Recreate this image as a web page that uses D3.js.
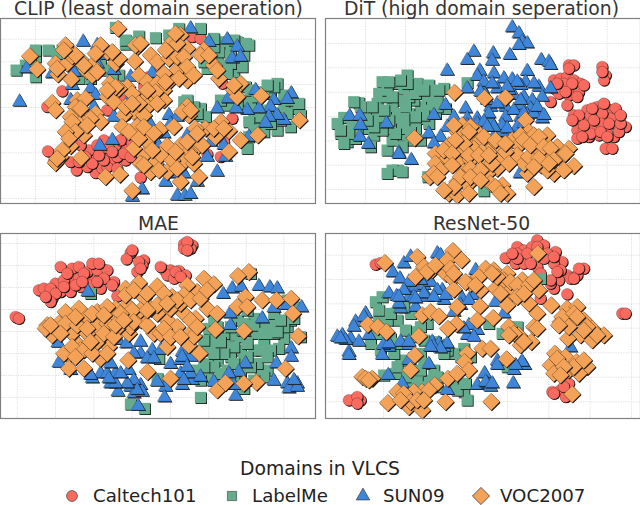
<!DOCTYPE html>
<html>
<head>
<meta charset="utf-8">
<script src="https://cdn.jsdelivr.net/npm/d3@7"></script>
<style>
  html, body { margin: 0; padding: 0; background: #fff; }
  svg { display: block; font-family: "DejaVu Sans", sans-serif; }
</style>
</head>
<body>
<svg id="chart" width="640" height="505"></svg>
<script>
const domainNames = ["Caltech101", "LabelMe", "SUN09", "VOC2007"];
const domainColors = ["#fb6a5e", "#65ab8d", "#3f86d9", "#f3a258"];
const panelTitles = ["CLIP (least domain seperation)", "DiT (high domain seperation)", "MAE", "ResNet-50"];

// embedding values
const clipCaltech = [[185,273],[142,453],[228,510],[210,485],[160,485],[285,518],[260,500],[420,532],[300,490],[340,490],[375,480],[355,450],[320,465],[280,470],[265,450],[310,420],[345,435],[380,440],[370,415],[240,435],[300,450],[330,480],[305,505],[350,470],[400,450],[695,355],[665,250],[575,110],[600,115],[660,470],[620,462],[670,425],[140,320],[445,230],[480,215],[430,260],[365,300],[320,330],[375,345],[325,445],[360,420],[395,430],[290,435],[255,470],[235,485],[275,490],[320,500],[350,505],[370,460],[390,470],[310,480],[335,455],[295,465]];
const clipLabelMe = [[345,82],[415,108],[465,113],[375,132],[505,105],[535,85],[600,85],[143,150],[185,150],[105,170],[75,195],[47,210],[105,230],[235,235],[290,200],[625,130],[655,125],[680,135],[710,125],[735,130],[650,170],[700,215],[725,200],[620,205],[655,155],[550,305],[600,325],[600,345],[615,350],[735,260],[830,250],[790,275],[850,285],[885,325],[900,345],[870,380],[830,390],[770,370],[790,395],[740,445],[720,300],[680,315],[750,300],[810,280],[760,350],[255,345],[265,195],[210,180],[750,320],[850,320],[800,330],[270,220],[355,225],[640,140],[665,195],[690,190],[680,220],[610,185],[640,115],[700,120],[690,165],[730,165],[745,135],[870,300],[820,260],[800,255],[750,270],[710,310],[660,300],[860,340],[840,360],[810,370],[780,350],[745,365],[770,290],[895,310],[580,320],[560,300],[590,340],[745,410],[760,390],[105,150],[90,190],[170,160],[200,145],[240,210],[270,235],[300,180],[315,210],[335,235],[375,120],[400,125]];
const clipSun = [[570,85],[680,118],[710,140],[695,175],[720,170],[625,125],[248,125],[318,155],[290,190],[340,210],[78,205],[220,215],[155,220],[270,265],[215,255],[57,305],[285,285],[280,320],[210,300],[340,350],[390,230],[455,218],[410,295],[765,270],[872,280],[860,297],[820,300],[810,320],[850,360],[830,345],[805,350],[795,368],[775,325],[740,330],[707,325],[683,295],[650,325],[745,410],[670,435],[620,470],[650,515],[675,470],[505,345],[530,350],[510,370],[445,365],[490,400],[560,405],[575,410],[630,425],[460,455],[510,450],[298,437],[335,420],[495,545],[425,568],[395,590],[530,587],[553,587],[570,582],[590,545],[550,520],[515,520],[470,430],[390,290],[320,165],[290,135]];
const clipVoc = [[353,85],[410,140],[195,135],[297,148],[88,168],[110,207],[165,190],[200,190],[172,222],[212,237],[215,168],[240,178],[258,212],[275,225],[340,170],[320,155],[345,190],[403,183],[450,165],[470,185],[540,105],[510,130],[520,150],[505,175],[560,145],[610,150],[640,195],[655,235],[545,190],[570,215],[525,215],[510,240],[560,240],[490,220],[328,250],[380,260],[415,225],[440,245],[470,250],[490,270],[320,290],[340,305],[420,290],[450,280],[490,300],[440,320],[400,335],[155,308],[165,330],[230,300],[255,295],[225,320],[240,340],[210,350],[285,340],[300,365],[210,380],[245,365],[240,395],[250,405],[370,345],[365,380],[410,378],[435,405],[440,425],[478,388],[520,380],[720,250],[700,270],[710,290],[782,287],[897,360],[772,405],[720,420],[685,392],[662,365],[645,410],[615,385],[585,385],[565,345],[560,318],[540,435],[500,437],[590,440],[565,455],[550,485],[580,490],[595,530],[540,545],[500,515],[465,490],[430,465],[400,445],[420,490],[450,515],[480,465],[685,455],[358,523],[315,530],[395,572],[242,473],[210,437],[180,470],[165,488],[395,280],[355,265],[465,275],[470,310],[430,345],[385,395],[415,415],[455,450],[430,495],[475,510],[515,480],[525,455],[560,425],[605,435],[575,470],[530,505],[590,400],[640,385],[670,385],[545,335],[570,330],[530,170],[550,170],[495,150],[530,130],[525,100],[600,165],[625,165],[650,210],[240,325],[215,365],[270,355],[260,375],[225,395],[195,395],[205,415],[185,450],[170,475],[275,195],[290,215],[250,195],[225,165],[190,150],[170,205],[355,175],[335,155],[300,135],[285,160],[405,135],[420,130],[560,200],[580,225],[535,235],[495,245],[700,255],[345,260],[320,270],[440,270],[415,310],[375,320],[395,310],[430,380],[460,400]];

const ditCaltech = [[745,195],[760,195],[700,240],[720,235],[740,230],[760,240],[780,250],[700,265],[725,265],[750,265],[775,275],[715,280],[745,285],[770,290],[690,305],[740,315],[845,200],[855,225],[850,240],[845,215],[760,345],[800,330],[830,320],[860,325],[885,325],[895,350],[915,380],[770,365],[800,360],[830,350],[860,345],[880,370],[770,390],[790,385],[820,385],[850,380],[880,410],[805,410],[835,405],[860,400],[770,415],[895,395],[855,445],[875,445],[810,400],[870,355],[730,250],[755,250],[735,275],[790,255],[710,250],[775,345],[820,340],[845,340],[810,345],[840,370],[790,375],[865,370],[900,370],[900,345],[820,360],[785,410],[755,360],[815,325],[840,395],[850,310],[745,205],[860,410]];
const ditLabelMe = [[115,308],[70,352],[95,370],[60,400],[80,425],[105,415],[130,385],[155,350],[185,245],[175,280],[170,310],[165,345],[175,375],[160,405],[200,450],[230,510],[215,510],[225,250],[260,225],[250,265],[290,250],[325,255],[370,265],[345,285],[320,300],[300,320],[280,300],[240,300],[215,320],[230,340],[265,340],[300,355],[325,370],[260,375],[230,370],[210,385],[240,405],[270,420],[215,420],[195,350],[440,248],[375,325],[322,530],[490,572],[285,385],[300,420],[135,330],[110,390],[350,300],[195,290],[265,290],[150,440],[200,270],[215,290],[255,320],[285,280],[310,270],[330,330],[345,340],[310,345],[285,350],[250,355],[205,360],[185,390],[190,330],[160,380],[250,385],[270,395],[245,440],[225,400],[140,360],[85,400],[50,370],[120,320],[100,305],[60,390],[70,430],[200,520],[245,515],[355,270],[260,250],[240,240],[205,245],[155,320],[350,320]];
const ditSun = [[575,82],[595,100],[605,125],[620,130],[595,135],[460,155],[440,180],[518,160],[515,182],[568,165],[662,180],[685,185],[690,195],[380,212],[478,212],[520,220],[620,213],[470,228],[550,235],[575,238],[615,245],[440,265],[485,265],[530,265],[600,255],[655,260],[690,265],[640,250],[495,285],[665,290],[580,285],[610,290],[635,300],[555,320],[600,315],[630,325],[510,320],[435,325],[375,315],[340,345],[400,350],[440,355],[470,355],[510,360],[555,350],[600,350],[650,340],[665,355],[380,380],[620,345],[325,400],[360,410],[340,430],[525,400],[545,395],[590,380],[87,348],[118,347],[120,375],[198,370],[118,410],[143,432],[235,458],[272,480],[505,340],[235,462],[598,520],[500,300],[530,310],[580,330],[610,340],[640,340],[650,320],[670,345],[600,300],[565,270],[590,245],[560,260],[490,245],[515,250],[480,275],[470,370],[440,375],[545,375],[520,380],[490,365],[500,380],[560,385],[610,370]];
const ditVoc = [[402,277],[492,294],[555,292],[615,360],[282,414],[425,375],[410,395],[470,395],[440,415],[480,420],[385,435],[420,450],[460,445],[500,440],[345,460],[380,475],[345,490],[410,485],[450,480],[490,480],[520,440],[540,475],[530,505],[360,510],[328,530],[430,515],[465,530],[500,520],[410,545],[440,555],[510,550],[385,580],[410,585],[445,580],[545,555],[560,580],[640,560],[620,520],[575,420],[595,435],[625,395],[600,405],[650,430],[680,405],[640,460],[680,465],[590,465],[610,490],[660,495],[700,520],[710,440],[745,445],[720,475],[760,497],[640,405],[530,430],[555,455],[490,410],[450,380],[625,470],[680,510],[515,490],[400,375],[445,395],[430,430],[405,420],[370,450],[395,460],[445,465],[475,465],[505,465],[525,420],[555,430],[565,490],[610,420],[630,435],[655,410],[670,440],[690,445],[700,480],[735,460],[655,475],[640,500],[685,490],[730,510],[395,495],[450,505],[480,510],[420,530],[450,530],[480,540],[525,560],[540,580],[400,560],[370,570],[340,520],[350,530]];

const maeCaltech = [[50,323],[115,240],[140,240],[155,265],[180,245],[165,220],[180,170],[215,175],[235,170],[210,210],[235,205],[210,245],[240,230],[270,210],[280,165],[305,175],[300,235],[340,215],[350,258],[390,128],[378,147],[430,150],[425,165],[410,185],[490,178],[510,180],[535,182],[555,195],[500,195],[520,205],[550,102],[575,105],[550,115],[570,115],[300,200],[260,185],[190,210],[150,250],[130,235],[150,235],[165,250],[190,230],[225,225],[200,190],[250,190],[290,180],[320,180],[310,205],[265,225],[335,225],[275,160],[295,160],[395,120],[415,155],[420,175],[480,170],[525,185],[540,200],[560,95],[560,120],[45,320],[55,325],[150,275],[135,260],[245,215],[290,215]];
const maeLabelMe = [[270,250],[600,562],[390,582],[432,595],[625,355],[640,390],[620,420],[650,420],[680,400],[700,375],[670,370],[760,325],[790,345],[820,340],[860,350],[760,370],[800,370],[850,385],[835,415],[790,400],[720,420],[760,420],[690,440],[650,450],[620,460],[620,500],[600,510],[780,480],[800,480],[770,460],[730,450],[720,490],[680,480],[730,535],[660,520],[860,270],[880,290],[820,310],[870,330],[750,190],[710,330],[740,300],[900,380],[475,445],[470,505],[580,480],[720,380],[640,330],[650,350],[690,350],[730,340],[760,345],[790,370],[820,370],[850,350],[830,365],[880,325],[840,330],[700,410],[740,400],[780,420],[810,420],[670,430],[640,470],[660,490],[700,460],[750,470],[790,500],[700,510],[760,510],[640,430],[610,470],[660,395],[740,440],[610,390],[800,440]];
const maeSun = [[262,245],[695,235],[668,252],[722,230],[775,228],[808,232],[830,235],[820,293],[858,285],[903,292],[785,325],[688,310],[690,345],[730,365],[172,398],[175,458],[352,390],[378,400],[420,395],[455,420],[480,420],[420,430],[545,425],[570,440],[510,462],[735,460],[872,415],[872,440],[828,460],[715,485],[685,490],[820,512],[890,520],[860,520],[865,535],[705,557],[640,515],[700,525],[545,525],[575,510],[540,490],[495,530],[492,562],[470,515],[352,545],[330,520],[420,525],[390,530],[400,550],[425,545],[413,588],[275,505],[300,490],[320,490],[345,488],[385,480],[330,460],[210,480],[400,430],[440,445],[460,445],[400,510],[410,540],[380,520],[345,520],[325,505],[360,490],[270,495],[570,490],[550,510],[540,450],[600,500],[890,530],[880,510],[545,440],[560,470]];
const maeVoc = [[745,185],[712,197],[735,260],[710,290],[740,290],[785,270],[828,270],[872,265],[877,310],[893,378],[855,475],[768,517],[730,520],[650,540],[675,518],[730,362],[645,358],[597,430],[510,505],[441,485],[383,450],[610,205],[640,222],[590,245],[560,225],[470,228],[415,218],[375,235],[515,260],[550,255],[430,262],[380,285],[345,295],[290,305],[235,295],[195,305],[140,345],[175,340],[155,375],[210,335],[245,335],[290,350],[320,340],[350,320],[420,330],[460,370],[385,370],[500,330],[550,310],[585,325],[620,295],[650,310],[470,310],[530,350],[565,375],[500,410],[565,405],[580,378],[420,300],[205,435],[205,475],[250,475],[300,445],[325,410],[290,395],[230,400],[215,370],[260,370],[390,350],[450,295],[510,295],[540,280],[350,355],[260,320],[240,420],[480,370],[135,355],[150,345],[195,340],[230,345],[260,355],[310,370],[340,380],[190,430],[215,410],[250,420],[275,430],[320,430],[275,310],[320,290],[375,255],[400,240],[440,250],[490,250],[530,270],[570,270],[600,265],[620,240],[395,300],[360,310],[400,335],[440,345],[490,355],[510,380],[540,380],[470,285],[500,280],[570,330],[590,350],[310,315],[225,320],[180,370],[225,440],[270,395],[345,345],[370,330],[440,300]];

const resnetCaltech = [[100,570],[120,570],[165,163],[180,158],[905,310],[915,310],[650,90],[590,110],[555,143],[585,160],[610,120],[635,110],[670,105],[705,125],[725,155],[700,160],[680,130],[650,170],[790,175],[770,195],[740,195],[715,210],[700,235],[740,252],[660,265],[695,545],[720,540],[745,520],[735,560],[660,190],[610,160],[590,130],[750,205],[650,110],[620,130],[670,145],[630,160],[590,145],[700,140],[720,180],[690,220],[710,185],[775,175],[760,205],[575,130],[85,570],[110,560],[110,580],[700,550],[730,530],[690,210]];
const resnetLabelMe = [[165,275],[185,260],[175,325],[150,400],[230,330],[270,310],[320,340],[290,365],[345,395],[240,450],[225,490],[285,500],[340,480],[325,510],[265,525],[430,545],[440,570],[430,415],[450,440],[400,430],[365,405],[660,205],[545,370],[590,350],[560,470],[505,340],[250,290],[180,420],[250,400],[300,430],[190,495],[420,520],[350,530],[310,460],[220,430],[200,330],[210,385],[170,370],[230,400],[270,380],[310,390],[380,420],[420,440],[370,430],[230,470],[300,480],[260,500],[350,500],[290,515],[395,530],[410,540],[435,520],[320,530],[175,300],[210,310],[255,360],[300,350]];
const resnetSun = [[250,160],[217,187],[238,205],[270,140],[350,130],[360,135],[465,180],[205,250],[228,258],[265,235],[285,230],[310,225],[330,215],[365,240],[370,270],[320,260],[265,260],[240,295],[425,265],[455,255],[420,285],[525,275],[550,310],[400,305],[445,345],[440,375],[470,360],[135,310],[105,335],[65,375],[50,380],[90,385],[115,395],[145,375],[85,425],[85,435],[240,395],[205,410],[188,405],[185,435],[265,405],[335,395],[370,410],[355,400],[380,400],[265,450],[325,462],[203,495],[245,520],[380,540],[470,525],[492,490],[500,520],[530,452],[580,480],[600,460],[612,465],[578,520],[750,412],[530,465],[280,260],[285,290],[265,215],[250,240],[300,210],[310,250],[350,240],[340,260],[375,255],[235,280],[100,350],[130,320],[75,390],[60,385],[205,400],[265,395],[340,410],[360,415],[330,410],[495,515],[510,530],[515,520],[605,455],[585,465],[235,260],[285,265],[445,270],[430,355],[460,380]];
const resnetVoc = [[193,158],[290,140],[397,122],[380,150],[423,150],[310,170],[335,180],[285,200],[375,190],[395,205],[400,238],[450,220],[480,240],[495,175],[520,180],[475,200],[560,190],[525,235],[550,210],[605,210],[570,240],[655,240],[555,265],[560,285],[625,280],[650,310],[410,290],[478,288],[305,315],[330,305],[355,318],[470,330],[518,323],[408,342],[382,355],[142,343],[172,350],[198,365],[295,378],[565,350],[595,375],[640,350],[600,405],[632,395],[692,285],[740,295],[770,290],[720,335],[750,335],[790,330],[815,355],[780,375],[815,390],[850,375],[742,385],[485,415],[510,415],[558,447],[440,430],[432,455],[445,480],[283,435],[270,480],[125,500],[155,505],[382,505],[410,490],[343,525],[703,430],[735,440],[768,455],[800,470],[690,465],[700,490],[745,480],[775,490],[755,552],[230,545],[202,578],[265,560],[265,590],[305,600],[305,545],[325,540],[375,575],[512,575],[280,545],[652,130],[530,200],[570,215],[590,225],[625,225],[640,210],[590,260],[610,250],[540,250],[515,190],[320,185],[345,165],[390,175],[400,190],[435,215],[465,225],[725,320],[760,310],[800,350],[830,375],[790,360],[745,350],[715,345],[770,320],[710,445],[760,470],[730,470],[720,495],[790,450],[250,550],[270,575],[290,570],[240,570],[310,570],[580,370],[610,395],[565,375],[650,355],[135,505],[145,510]];

const panelSeries = [
    [clipCaltech, clipLabelMe, clipSun, clipVoc],
    [ditCaltech, ditLabelMe, ditSun, ditVoc],
    [maeCaltech, maeLabelMe, maeSun, maeVoc],
    [resnetCaltech, resnetLabelMe, resnetSun, resnetVoc]
];

const panelXTicks = [
    [105, 225, 345, 465, 585, 705, 825],
    [135, 255, 375, 495, 615, 740, 860],
    [50, 165, 280, 395, 510, 625, 737, 850],
    [65, 189, 313, 437, 561, 685, 809, 933]
];
const panelYTicks = [
    [117, 185, 253, 322, 390, 458, 527, 595],
    [130, 203, 276, 349, 422, 495, 568],
    [100, 166, 232, 298, 364, 430, 496, 562],
    [135, 208, 281, 354, 428, 501, 575]
];

const panelXDomains = [[0, 945], [15, 960], [0, 945], [15, 960]];
const panelYDomains = [[55, 610], [55, 610], [70, 625], [70, 625]];

const svg = d3.select("#chart");
const panelW = 315, panelH = 185;
const panelPos = [[0.5, 18.5], [325.5, 18.5], [0.5, 233.5], [325.5, 233.5]];

const markerPath = [
    d3.symbol(d3.symbolCircle, 102)(),
    d3.symbol(d3.symbolSquare, 128)(),
    d3.symbol(d3.symbolTriangle, 88)(),
    d3.symbol(d3.symbolSquare, 148)()
];
const markerRotate = [0, 0, 0, 45];
const markerStroke = ["#222", "none", "#222", "#222"];

panelTitles.forEach((title, p) => {
    const g = svg.append("g").attr("transform", `translate(${panelPos[p][0]},${panelPos[p][1]})`);
    const xScale = d3.scaleLinear().domain(panelXDomains[p]).range([0, panelW]);
    const yScale = d3.scaleLinear().domain(panelYDomains[p]).range([0, panelH]);

    g.selectAll(".gx").data(panelXTicks[p]).enter().append("line")
        .attr("x1", d => xScale(d)).attr("x2", d => xScale(d))
        .attr("y1", 0).attr("y2", panelH)
        .attr("stroke", "#e4e4e4").attr("stroke-width", 1).attr("stroke-dasharray", "1.5,1");
    g.selectAll(".gy").data(panelYTicks[p]).enter().append("line")
        .attr("y1", d => yScale(d)).attr("y2", d => yScale(d))
        .attr("x1", 0).attr("x2", panelW)
        .attr("stroke", "#e4e4e4").attr("stroke-width", 1).attr("stroke-dasharray", "1.5,1");

    panelSeries[p].forEach((points, i) => {
        const layer = g.append("g");
        points.forEach(pt => {
            // the black edge sits mostly on the lower right in the original
            layer.append("path")
                .attr("d", markerPath[i])
                .attr("transform", `translate(${xScale(pt[0]) + 0.8},${yScale(pt[1]) + 0.8}) rotate(${markerRotate[i]})`)
                .attr("fill", "#111");
            layer.append("path")
                .attr("d", markerPath[i])
                .attr("transform", `translate(${xScale(pt[0])},${yScale(pt[1])}) rotate(${markerRotate[i]})`)
                .attr("fill", domainColors[i])
                .attr("stroke", markerStroke[i])
                .attr("stroke-opacity", 0.55)
                .attr("stroke-width", 0.5);
        });
    });

    g.append("rect").attr("width", panelW).attr("height", panelH)
        .attr("fill", "none").attr("stroke", "#808080").attr("stroke-width", 1.2);

    svg.append("text")
        .attr("x", panelPos[p][0] + (p % 2 === 0 ? 158 : 156))
        .attr("y", panelPos[p][1] - 4)
        .attr("text-anchor", "middle")
        .attr("font-size", 18.8)
        .attr("fill", "#333")
        .text(title);
});

// legend
svg.append("text").attr("x", 320).attr("y", 475).attr("text-anchor", "middle")
    .attr("font-size", 18.8).attr("fill", "#222").text("Domains in VLCS");

const legendMarkerX = [72, 232, 363, 481];
const legendTextX = [93, 252, 383, 500];
const legendScale = [0.95, 0.82, 0.95, 1.0];
domainNames.forEach((name, i) => {
    svg.append("path")
        .attr("d", markerPath[i])
        .attr("transform", `translate(${legendMarkerX[i]},496) rotate(${markerRotate[i]}) scale(${legendScale[i]})`)
        .attr("fill", domainColors[i])
        .attr("stroke", "#333").attr("stroke-width", 0.7);
    svg.append("text").attr("x", legendTextX[i]).attr("y", 502)
        .attr("font-size", 18.2).attr("fill", "#222").text(name);
});
</script>
</body>
</html>
